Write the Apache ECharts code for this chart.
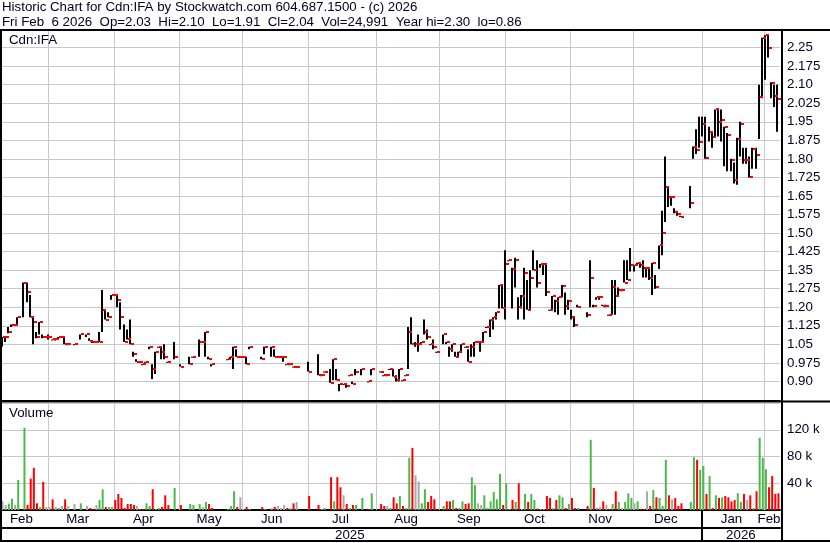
<!DOCTYPE html>
<html>
<head>
<meta charset="utf-8">
<title>Cdn:IFA</title>
<script src="https://cdn.jsdelivr.net/npm/echarts@6/dist/echarts.min.js"></script>
<style>
html, body { margin: 0; padding: 0; background: #fff; }
#chart { width: 830px; height: 543px; }
</style>
</head>
<body>
<div id="chart"></div>
<script>
// months on the axis and trading days in each
const months = ['Feb', 'Mar', 'Apr', 'May', 'Jun', 'Jul', 'Aug', 'Sep', 'Oct', 'Nov', 'Dec', 'Jan', 'Feb'];
const monthDays = [15, 21, 21, 20, 21, 22, 20, 21, 21, 20, 22, 20, 5];
const years = ['2025', '2026'];
const yearFirstMonth = [0, 11];

const priceTicks = ['0.90', '0.975', '1.05', '1.125', '1.20', '1.275', '1.35', '1.425', '1.50', '1.575',
  '1.65', '1.725', '1.80', '1.875', '1.95', '2.025', '2.10', '2.175', '2.25'];
const priceStep = 0.075;
const volTicks = ['40 k', '80 k', '120 k'];
const volStep = 40;

// daily bars, null = no trade that day
const high = [
  1.08, 1.08, 1.12, 1.13, 1.13, 1.16, null, 1.30, 1.30, 1.25,
  1.16, 1.10, 1.14, 1.09, 1.08, 1.09, 1.07, 1.07, 1.08, 1.08,
  1.08, 1.05, null, 1.05, null, 1.09, null, 1.09, 1.075, 1.06,
  1.06, 1.10, 1.27, 1.19, 1.18, 1.25, 1.25, 1.25, 1.22, 1.13,
  1.11, 1.15, 1.02, 0.99, 0.98, 0.97, 0.98, 1.04, 0.97, 1.02,
  1.04, 1.04, 1.05, 0.98, null, 1.06, null, 0.97, null, null,
  1.00, 1.00, null, 1.07, 1.06, 1.10, 1.00, 0.97, null, null,
  null, null, 0.99, 1.00, 1.04, 1.03, 1.00, 1.00, 1.00, 1.04,
  null, null, null, 1.00, 1.04, null, 1.04, 1.03, 1.00, 1.00,
  1.00, 0.97, 0.97, 0.96, 0.96, null, null, null, 0.98, null,
  null, 1.01, 0.925, 0.94, null, 0.95, 0.99, 0.95, 0.89, 0.89,
  0.89, 0.925, 0.90, 0.95, null, 0.95, null, 0.90, 0.95, null,
  null, 0.94, 0.925, 0.925, 0.95, 0.95, 0.925, 0.95, 0.905, 0.925,
  1.12, 1.16, 1.06, 1.09, 1.06, 1.15, 1.11, 1.05, 1.07, 1.02,
  null, 1.09, 1.06, 1.04, 1.05, 1.02, 1.02, 1.05, 1.04, 1.03,
  1.05, 1.06, 1.06, 1.06, 1.10, 1.12, 1.15, 1.16, 1.18, 1.29,
  1.29, 1.43, 1.39, 1.36, 1.40, 1.24, 1.25, 1.36, 1.31, 1.35,
  1.43, 1.39, 1.375, 1.375, 1.375, 1.19, 1.245, 1.23, 1.24, 1.29,
  1.26, 1.23, 1.19, 1.16, 1.21, null, null, 1.18, 1.39, 1.21,
  1.24, 1.24, 1.21, 1.21, 1.17, 1.31, 1.31, 1.28, 1.27, 1.39,
  1.39, 1.44, 1.37, 1.38, 1.38, 1.39, 1.36, 1.36, 1.38, 1.33,
  1.45, 1.59, 1.81, 1.69, 1.65, 1.60, 1.59, 1.57, null, null,
  1.69, 1.85, 1.92, 1.97, 1.97, 1.97, 1.93, 1.905, 2.00, 2.00,
  2.00, 1.93, 1.905, 1.80, 1.785, 1.885, 1.95, 1.845, 1.845, 1.81,
  1.845, 1.845, 2.10, 2.29, 2.30, 2.30, 2.11, 2.10, 2.10
];
const low = [
  1.04, 1.06, 1.095, 1.12, 1.13, 1.13, null, 1.16, 1.22, 1.16,
  1.05, 1.075, 1.09, 1.075, 1.08, 1.07, 1.07, 1.07, 1.08, 1.08,
  1.05, 1.05, null, 1.05, null, 1.07, null, 1.08, 1.065, 1.06,
  1.06, 1.06, 1.10, 1.15, 1.16, 1.23, 1.25, 1.20, 1.11, 1.06,
  1.07, 1.05, 1.00, 0.98, 0.98, 0.97, 0.98, 1.03, 0.91, 0.93,
  1.04, 0.99, 0.99, 0.98, null, 0.99, null, 0.96, null, null,
  0.97, 1.00, null, 1.00, 1.06, 1.00, 0.99, 0.96, null, null,
  null, null, 0.99, 0.99, 0.95, 1.00, 1.00, 1.00, 0.97, 1.03,
  null, null, null, 0.99, 1.01, null, 1.00, 1.00, 1.00, 1.00,
  0.98, 0.97, 0.97, 0.96, 0.96, null, null, null, 0.94, null,
  null, 0.925, 0.925, 0.94, null, 0.895, 0.905, 0.905, 0.86, 0.89,
  0.875, 0.925, 0.89, 0.925, null, 0.925, null, 0.90, 0.925, null,
  null, 0.94, 0.925, 0.925, 0.95, 0.92, 0.90, 0.90, 0.905, 0.925,
  0.95, 1.05, 1.04, 1.02, 1.06, 1.09, 1.07, 1.05, 1.03, 1.02,
  null, 1.05, 1.05, 1.00, 1.02, 1.00, 1.00, 1.02, 1.04, 0.98,
  1.00, 1.00, 1.06, 1.02, 1.06, 1.12, 1.08, 1.11, 1.15, 1.195,
  1.195, 1.15, 1.39, 1.195, 1.28, 1.15, 1.195, 1.15, 1.19, 1.19,
  1.35, 1.28, 1.36, 1.33, 1.245, 1.19, 1.19, 1.18, 1.17, 1.24,
  1.17, 1.19, 1.15, 1.12, 1.20, null, null, 1.16, 1.20, 1.20,
  1.23, 1.23, 1.205, 1.20, 1.17, 1.17, 1.17, 1.25, 1.265, 1.30,
  1.31, 1.345, 1.345, 1.375, 1.36, 1.32, 1.32, 1.31, 1.25, 1.275,
  1.355, 1.41, 1.545, 1.605, 1.61, 1.58, 1.57, 1.565, null, null,
  1.60, 1.80, 1.82, 1.845, 1.89, 1.80, 1.87, 1.845, 1.89, 1.89,
  1.87, 1.77, 1.75, 1.75, 1.70, 1.695, 1.81, 1.78, 1.78, 1.725,
  1.76, 1.76, 1.88, 2.045, 2.12, 2.21, 2.045, 2.01, 1.91
];
const close = [
  1.08, 1.08, 1.10, 1.13, 1.13, 1.16, null, 1.30, 1.26, 1.16,
  1.14, 1.08, 1.14, 1.08, 1.08, 1.08, 1.07, 1.07, 1.08, 1.08,
  1.05, 1.05, null, 1.05, null, 1.09, null, 1.09, 1.065, 1.06,
  1.06, 1.06, 1.19, 1.15, 1.16, 1.25, 1.25, 1.23, 1.16, 1.06,
  1.07, 1.05, 1.01, 0.98, 0.98, 0.97, 0.98, 1.04, 0.95, 1.02,
  1.04, 1.02, 1.00, 0.98, null, 1.00, null, 0.96, null, null,
  0.97, 1.00, null, 1.06, 1.06, 1.10, 0.99, 0.97, null, null,
  null, null, 0.99, 1.00, 1.04, 1.00, 1.00, 1.00, 0.97, 1.04,
  null, null, null, 0.99, 1.04, null, 1.04, 1.00, 1.00, 1.00,
  1.00, 0.97, 0.97, 0.96, 0.96, null, null, null, 0.94, null,
  null, 0.925, 0.925, 0.94, null, 0.895, 0.99, 0.905, 0.89, 0.89,
  0.88, 0.925, 0.89, 0.94, null, 0.95, null, 0.90, 0.95, null,
  null, 0.94, 0.925, 0.925, 0.95, 0.92, 0.905, 0.95, 0.905, 0.925,
  1.10, 1.05, 1.05, 1.05, 1.06, 1.10, 1.08, 1.05, 1.04, 1.02,
  null, 1.09, 1.06, 1.03, 1.05, 1.00, 1.02, 1.05, 1.04, 0.98,
  1.04, 1.06, 1.06, 1.06, 1.10, 1.12, 1.15, 1.16, 1.18, 1.29,
  1.195, 1.375, 1.39, 1.355, 1.39, 1.20, 1.245, 1.34, 1.19, 1.32,
  1.35, 1.30, 1.375, 1.375, 1.26, 1.19, 1.245, 1.227, 1.24, 1.286,
  1.206, 1.227, 1.16, 1.13, 1.20, null, null, 1.17, 1.32, 1.206,
  1.24, 1.24, 1.206, 1.206, 1.17, 1.28, 1.246, 1.268, 1.268, 1.30,
  1.31, 1.37, 1.37, 1.378, 1.37, 1.358, 1.358, 1.32, 1.378, 1.28,
  1.45, 1.50, 1.688, 1.647, 1.647, 1.586, 1.579, 1.566, null, null,
  1.62, 1.846, 1.837, 1.867, 1.941, 1.805, 1.907, 1.89, 2.00, 1.949,
  1.958, 1.928, 1.898, 1.796, 1.715, 1.881, 1.941, 1.796, 1.796, 1.728,
  1.84, 1.816, 2.05, 2.288, 2.30, 2.247, 2.105, 2.056, 2.04
];
// volume in thousands of shares
const volume = [
  13, 7.5, 9.5, 17, 7.5, 45, null, 123, 7.5, 47,
  63, 10, 4.5, 42, 4.5, 4.5, 16, 4.5, 3, 6,
  16, 6, null, 9, null, 10, null, 6, 3, 1.5,
  7.5, 15, 31, 4.5, 4.5, 4.5, 15, 24, 18, 3,
  9, 9, 7.5, 6, 1, 1.5, 10, 6, 31, 1.5,
  3, 4.5, 22, 7.5, null, 33, null, 7.5, null, null,
  9, 7.5, null, 9, 4.5, 12, 9, 3, null, null,
  null, null, 1.5, 6, 28, 4.5, 19, 1.5, 4.5, 1.5,
  null, null, null, 4.5, 1.5, null, 3, 4.5, 6, 3,
  7.5, 3, 3, 10, 12, null, null, null, 21, null,
  null, 7.5, 1.5, 3, null, 49, 13, 49, 34, 22,
  9, 3, 7.5, 7.5, null, 18, null, 1.5, 25, null,
  null, 9, 6, 6, 3, 19, 10, 21, 6, 3,
  78, 93, 52, 43, 10, 31, 12, 21, 16, 1.5,
  null, 6, 13, 13, 15, 3, 3, 13, 9, 10,
  49, 37, 10, 7.5, 22, 3, 13, 27, 16, 54,
  7.5, 40, 1.5, 15, 12, 40, 1.5, 24, 12, 24,
  15, 2, 1.5, 1.5, 21, 18, 3, 15, 22, 19,
  3, 9, 18, 3, 3, null, null, 6, 105, 33,
  3, 4.5, 13, 7.5, 1.5, 9, 28, 12, 3, 12,
  25, 18, 10, 13, 1.5, 1.5, 28, 6, 30, 19,
  18, 6, 75, 22, 16, 18, 6, 10, null, null,
  12, 79, 75, 60, 66, 24, 51, 3, 22, 18,
  19, 21, 19, 13, 15, 25, 12, 24, 15, 22,
  3, 28, 108, 78, 61, 34, 51, 24, 24.991
];
// u = up, d = down, n = unchanged, . = no trade
const volDir = (
  'nnuunu.udd' + 'ddudnndnun' + 'dn.n.u.ndd' + 'nuuduudddd' + 'dddnnduudu' +
  'uddd.u.d..' + 'uu.unudd..' + '..uuudnndu' + '...du.ndnn' + 'ndndn...d.' +
  '.dnu.duddn' + 'dudu.u.du.' + '.ddnuddudu' + 'udnnuudddd' + '.udduduudd' +
  'uunnuuuuuu' + 'dundudnudu' + 'udnndduduu' + 'duddu..dud' + 'undndudunu' +
  'uunuddndud' + 'uuudnddd..' + 'uuduududud' + 'udddduudnd' + 'uduuudddd'
).split('');

const titleLine1 = 'Historic Chart for Cdn:IFA by Stockwatch.com 604.687.1500 - (c) 2026';
const titleLine2 = 'Fri Feb  6 2026  Op=2.03  Hi=2.10  Lo=1.91  Cl=2.04  Vol=24,991  Year hi=2.30  lo=0.86';

// build day categories and where months / years begin
const days = [];
const monthStart = [];
const monthLabelAt = {};
months.forEach((m, k) => {
  const y = k >= yearFirstMonth[1] ? 1 : 0;
  monthStart.push(days.length);
  monthLabelAt[days.length + Math.floor((monthDays[k] - 2) / 2)] = m;
  for (let d = 0; d < monthDays[k]; d++) days.push(years[y] + '-' + m + '-' + (d + 1));
});
const yearStart = yearFirstMonth.map(k => monthStart[k]);
const yearLabelAt = {};
yearStart.forEach((s, y) => {
  const e = y + 1 < yearStart.length ? yearStart[y + 1] - 1 : days.length - 1;
  yearLabelAt[Math.floor((s + e) / 2)] = years[y];
});

const ohlc = [];
close.forEach((c, i) => { if (c != null) ohlc.push([i, low[i], high[i], c]); });
const volColor = { u: '#4cb84c', d: '#ff0000', n: '#a8a8a8' };
const volData = volume.map((v, i) => v == null ? '-' : { value: v, itemStyle: { color: volColor[volDir[i]] } });
const monthLines = monthStart.slice(1).map(i => [i, 0]);

const font = '"Liberation Sans", Arial, sans-serif';
const ink = '#000022';
const gridColor = '#c8c8c8';

const chartDom = document.getElementById('chart');
const myChart = echarts.init(chartDom);

const frame = (x1, y1, x2, y2) => ({
  type: 'line', z: 100, silent: true,
  shape: { x1, y1, x2, y2 },
  style: { stroke: '#000', lineWidth: 2 }
});

const textTitle = (text, left, top) => ({
  text, left, top, padding: 0,
  textStyle: { fontSize: 13.3, fontWeight: 'normal', color: ink, fontFamily: font, lineHeight: 14 }
});

// left edge of a day's slot on a category axis
const slotLeft = (api, i) => api.coord([i, 0])[0] - api.size([1, 0])[0] / 2;

// month boundary lines across a whole grid
const monthGridSeries = (axisIdx) => ({
  type: 'custom', xAxisIndex: axisIdx, yAxisIndex: axisIdx, z: 1, silent: true,
  data: monthLines,
  renderItem: function (params, api) {
    const cs = params.coordSys;
    const x = Math.round(slotLeft(api, api.value(0))) + 0.5;
    return { type: 'line', shape: { x1: x, y1: cs.y, x2: x, y2: cs.y + cs.height }, style: { stroke: gridColor, lineWidth: 1 } };
  }
});

const option = {
  animation: false,
  backgroundColor: '#fff',
  title: [
    textTitle(titleLine1, 2, 0),
    textTitle(titleLine2, 2, 15),
    textTitle('Cdn:IFA', 9, 33),
    textTitle('Volume', 9, 406)
  ],
  grid: [
    { left: 1, right: 50, top: 29, height: 371 },
    { left: 1, right: 50, top: 403, height: 107 }
  ],
  xAxis: [
    {
      type: 'category', gridIndex: 0, data: days,
      axisLine: { show: true, lineStyle: { color: '#000', width: 1 } },
      axisTick: { show: false },
      axisLabel: { show: false },
      splitLine: { show: false }
    },
    {
      type: 'category', gridIndex: 1, data: days, position: 'bottom',
      axisLine: { show: true, lineStyle: { color: '#000', width: 2 } },
      axisTick: { show: false },
      axisLabel: {
        show: true, interval: (i) => monthLabelAt[i] !== undefined,
        formatter: (v, i) => monthLabelAt[i] || '',
        color: ink, fontSize: 13.3, fontFamily: font, margin: 3
      },
      splitLine: { show: false }
    },
    {
      type: 'category', gridIndex: 1, data: days, position: 'bottom', offset: 17.5,
      axisLine: { show: true, lineStyle: { color: '#000', width: 2 } },
      axisTick: { show: false },
      axisLabel: {
        show: true, interval: (i) => yearLabelAt[i] !== undefined,
        formatter: (v, i) => yearLabelAt[i] || '',
        color: ink, fontSize: 13.3, fontFamily: font, margin: 1
      },
      splitLine: { show: false }
    }
  ],
  yAxis: [
    {
      type: 'value', gridIndex: 0, position: 'right',
      min: 0.90 - priceStep, max: 2.25 + priceStep, interval: priceStep,
      axisLine: { show: false }, axisTick: { show: false },
      axisLabel: {
        margin: 7, color: ink, fontSize: 13.3, fontFamily: font,
        formatter: (v) => priceTicks[Math.round((v - 0.90) / priceStep)] || ''
      },
      splitLine: { show: true, lineStyle: { color: gridColor, width: 1 } }
    },
    {
      type: 'value', gridIndex: 1, position: 'right',
      min: 0, max: 4 * volStep, interval: volStep,
      axisLine: { show: false }, axisTick: { show: false },
      axisLabel: {
        margin: 7, color: ink, fontSize: 13.3, fontFamily: font,
        formatter: (v) => volTicks[Math.round(v / volStep) - 1] || ''
      },
      splitLine: { show: true, lineStyle: { color: gridColor, width: 1 } }
    }
  ],
  series: [
    monthGridSeries(0),
    monthGridSeries(1),
    {
      // year divider in the date rows under the volume panel
      type: 'custom', xAxisIndex: 1, yAxisIndex: 1, z: 5, silent: true, clip: false,
      data: yearStart.slice(1).map(i => [i, 0]),
      renderItem: function (params, api) {
        const cs = params.coordSys;
        const x = Math.round(slotLeft(api, api.value(0)));
        const y0 = cs.y + cs.height;
        return { type: 'line', shape: { x1: x, y1: y0, x2: x, y2: y0 + 32 }, style: { stroke: '#000', lineWidth: 2 } };
      }
    },
    {
      // high-low range
      type: 'custom', xAxisIndex: 0, yAxisIndex: 0, z: 3,
      encode: { x: 0, y: [1, 2] },
      data: ohlc,
      renderItem: function (params, api) {
        const i = api.value(0);
        const top = api.coord([i, api.value(2)]);
        const bot = api.coord([i, api.value(1)]);
        const x = Math.round(top[0]);
        return { type: 'rect', shape: { x: x - 2, y: top[1], width: 2, height: Math.max(bot[1] - top[1], 1) }, style: { fill: '#000' } };
      }
    },
    {
      // close tick, drawn over the range lines
      type: 'custom', xAxisIndex: 0, yAxisIndex: 0, z: 4,
      encode: { x: 0, y: 3 },
      data: ohlc,
      renderItem: function (params, api) {
        const i = api.value(0);
        const cl = api.coord([i, api.value(3)]);
        const x = Math.round(cl[0]);
        return { type: 'rect', shape: { x: x, y: Math.round(cl[1]) - 1, width: 3, height: 2 }, style: { fill: '#ff0000' } };
      }
    },
    {
      type: 'bar', xAxisIndex: 1, yAxisIndex: 1, z: 3,
      barWidth: 2,
      data: volData
    }
  ],
  graphic: [
    frame(0, 30, 830, 30),
    frame(0, 401.5, 830, 401.5),
    frame(0, 541, 830, 541),
    frame(1, 30, 1, 542),
    frame(782, 30, 782, 542)
  ]
};

option && myChart.setOption(option);
</script>
</body>
</html>
